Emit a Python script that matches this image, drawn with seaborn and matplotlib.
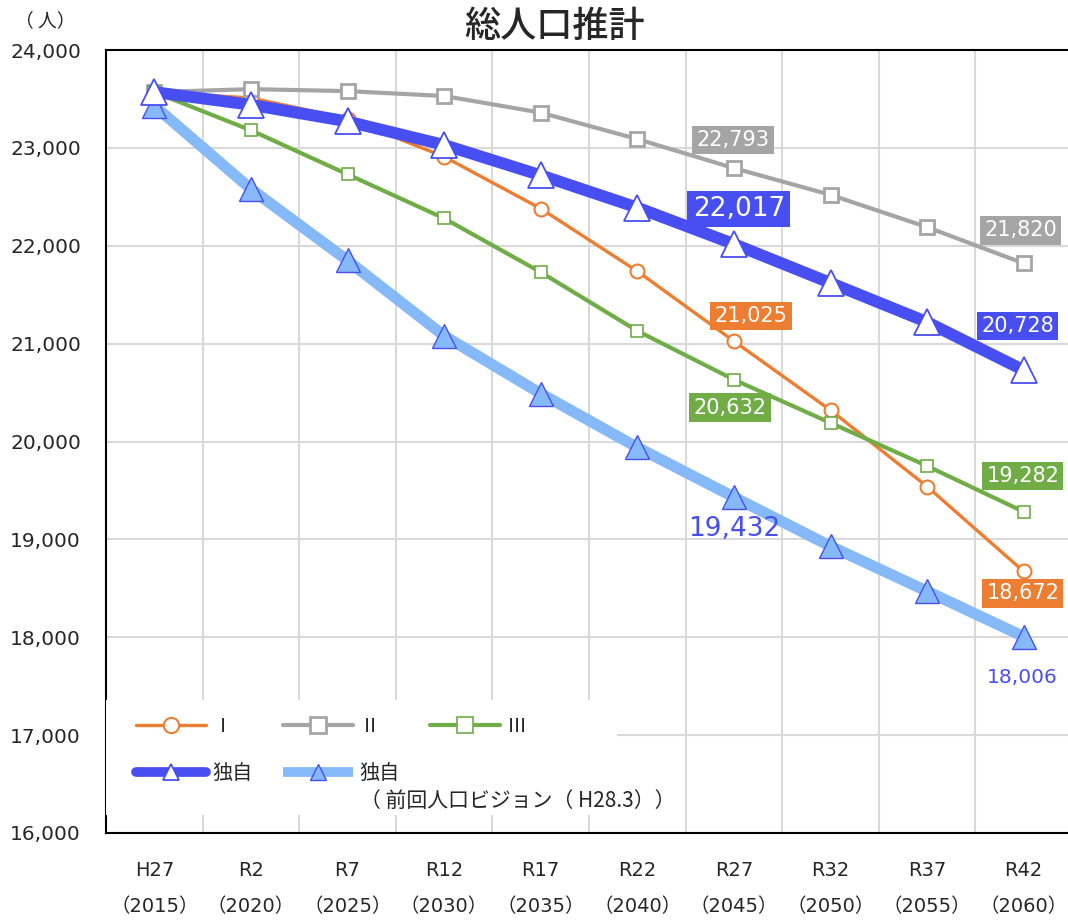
import numpy as np
import pandas as pd
import matplotlib
matplotlib.use("Agg")
import matplotlib.pyplot as plt
from matplotlib.lines import Line2D
from matplotlib.patches import Rectangle
import seaborn as sns

# ---- data -------------------------------------------------------------
periods = ["H27", "R2", "R7", "R12", "R17", "R22", "R27", "R32", "R37", "R42"]
years = ["2015", "2020", "2025", "2030", "2035", "2040", "2045", "2050", "2055", "2060"]

pop_I = [23570, 23510, 23300, 22910, 22380, 21740, 21025, 20320, 19540, 18672]
pop_II = [23570, 23600, 23580, 23530, 23360, 23090, 22793, 22520, 22190, 21820]
pop_III = [23570, 23180, 22730, 22280, 21730, 21130, 20632, 20190, 19750, 19282]
pop_own = [23570, 23440, 23270, 23030, 22720, 22390, 22017, 21620, 21220, 20728]
pop_prev = [23430, 22580, 21850, 21080, 20490, 19940, 19432, 18930, 18470, 18006]

y_ticks = [16000, 17000, 18000, 19000, 20000, 21000, 22000, 23000, 24000]

# ---- style ------------------------------------------------------------
sns.set_style("white")
JP = ["Noto Sans CJK JP", "DejaVu Sans"]
NUM = ["DejaVu Sans"]
MIXED = ["DejaVu Sans", "Noto Sans CJK JP"]
plt.rcParams["font.family"] = JP

C_ORANGE = "#ED7D31"
C_GREY = "#A5A5A5"
C_GREEN = "#70AD47"
C_BLUE = "#484FF2"
C_LIGHT = "#85B9F7"

fig = plt.figure(figsize=(10.68, 9.23), dpi=100)
ax = fig.add_axes([106 / 1068, 90 / 923, 966 / 1068, 783 / 923])

x = np.arange(len(periods))
df = pd.DataFrame({
    "x": np.tile(x, 5),
    "value": pop_I + pop_II + pop_III + pop_own + pop_prev,
    "series": (["I"] * 10 + ["II"] * 10 + ["III"] * 10
               + ["own"] * 10 + ["prev"] * 10),
})

styles = {
    "prev": dict(color=C_LIGHT, linewidth=8, marker="^", markersize=17,
                 markerfacecolor=C_LIGHT, markeredgecolor=C_BLUE,
                 markeredgewidth=1.0, zorder=3),
    "I": dict(color=C_ORANGE, linewidth=2.4, marker="o", markersize=10,
              markerfacecolor="white", markeredgecolor=C_ORANGE,
              markeredgewidth=1.5, zorder=4),
    "II": dict(color=C_GREY, linewidth=3, marker="s", markersize=10,
               markerfacecolor="white", markeredgecolor=C_GREY,
               markeredgewidth=2, zorder=4),
    "III": dict(color=C_GREEN, linewidth=3, marker="s", markersize=9,
                markerfacecolor="white", markeredgecolor=C_GREEN,
                markeredgewidth=1.2, zorder=4),
    "own": dict(color=C_BLUE, linewidth=8.5, marker="^", markersize=19,
                markerfacecolor="white", markeredgecolor=C_BLUE,
                markeredgewidth=1.3, zorder=5),
}

for key in ["prev", "I", "II", "III", "own"]:
    sub = df[df["series"] == key]
    sns.lineplot(data=sub, x="x", y="value", ax=ax, legend=False,
                 solid_capstyle="round", **styles[key])

# ---- axes -------------------------------------------------------------
ax.set_xlim(-0.5, 9.5)
ax.set_ylim(16000, 24000)
ax.set_xticks(x)
ax.set_xticklabels([f"{p}\n（{y}）" for p, y in zip(periods, years)],
                   fontsize=14, linespacing=2.15, family=MIXED)
ax.set_xticks(np.arange(0.5, 9.5, 1), minor=True)
ax.set_yticks(y_ticks)
ax.set_yticklabels([f"{v:,}" for v in y_ticks], fontsize=14.5, family=NUM)
ax.tick_params(axis="both", which="both", length=0)
ax.tick_params(axis="x", pad=20)
ax.tick_params(axis="y", pad=18)
ax.set_xlabel("")
ax.set_ylabel("")
ax.grid(which="minor", axis="x", color="#D9D9D9", linewidth=1.5)
ax.grid(which="major", axis="y", color="#D9D9D9", linewidth=1.5)
ax.grid(which="major", axis="x", visible=False)
for side in ["left", "top", "bottom"]:
    ax.spines[side].set_color("black")
    ax.spines[side].set_linewidth(1.5)
ax.spines["right"].set_visible(False)

# ---- data labels ------------------------------------------------------
series_vals = {"I": pop_I, "II": pop_II, "III": pop_III,
               "own": pop_own, "prev": pop_prev}
box_colors = {"I": C_ORANGE, "II": C_GREY, "III": C_GREEN, "own": C_BLUE}
labels = [
    # series, index, dx px, dy px, font size, boxed
    ("II", 6, -1, 28, 15, True),
    ("II", 9, -3, 33, 15, True),
    ("own", 6, 5, 35, 19, True),
    ("own", 9, -6, 44, 15, True),
    ("I", 6, 17, 25, 15, True),
    ("I", 9, -1, -22, 15, True),
    ("III", 6, -4, -28, 15, True),
    ("III", 9, -1, 36, 15, True),
    ("prev", 6, 0, -32, 19, False),
    ("prev", 9, -2, -41, 14.5, False),
]
for key, i, dx, dy, fs, boxed in labels:
    v = series_vals[key][i]
    kw = dict(xy=(x[i], v), xytext=(dx, dy), textcoords="offset pixels",
              ha="center", va="center", fontsize=fs, family=NUM, zorder=8)
    if boxed:
        ax.annotate(f"{v:,}", color="white",
                    bbox=dict(boxstyle="square,pad=0.2",
                              facecolor=box_colors[key], edgecolor="none"),
                    **kw)
    else:
        ax.annotate(f"{v:,}", color=C_BLUE, **kw)

# ---- legend -----------------------------------------------------------
ax.add_patch(Rectangle((0.0, 0.023), 0.529, 0.147, transform=ax.transAxes,
                       facecolor="white", edgecolor="none", zorder=6))

def handle(key, ms):
    s = dict(styles[key])
    s.pop("zorder")
    s["markersize"] = ms
    return Line2D([], [], solid_capstyle="round", **s)

h_I = handle("I", 11)
h_II = handle("II", 11)
h_III = handle("III", 11)
h_own = handle("own", 12)
h_prev = handle("prev", 12)
h_own.set_linewidth(7)
h_prev.set_linewidth(7)
h_prev.set_solid_capstyle("butt")

leg = ax.legend([h_I, h_own, h_II, h_prev, h_III],
                ["Ⅰ", "独自", "Ⅱ", "独自", "Ⅲ"],
                ncol=3, loc="upper left",
                bbox_to_anchor=(0.031, 0.150),
                frameon=False, fontsize=14.5,
                handlelength=3.5, handletextpad=0.3,
                columnspacing=1.5, labelspacing=1.3,
                borderpad=0, borderaxespad=0)
leg.set_zorder(7)

ax.text(518 / 966 - 106 / 966, (833 - 801) / 783,
        "（ 前回人口ビジョン（ H28.3））", transform=ax.transAxes,
        fontsize=15, ha="center", va="center", zorder=7)

# ---- titles -----------------------------------------------------------
fig.text(555 / 1068, 1 - 27 / 923, "総人口推計", fontsize=26,
         fontweight="medium", ha="center", va="center")
fig.text(15 / 1068, 1 - 21 / 923, "（ 人）", fontsize=13.5,
         ha="left", va="center")

fig.savefig("out.png", dpi=100)
